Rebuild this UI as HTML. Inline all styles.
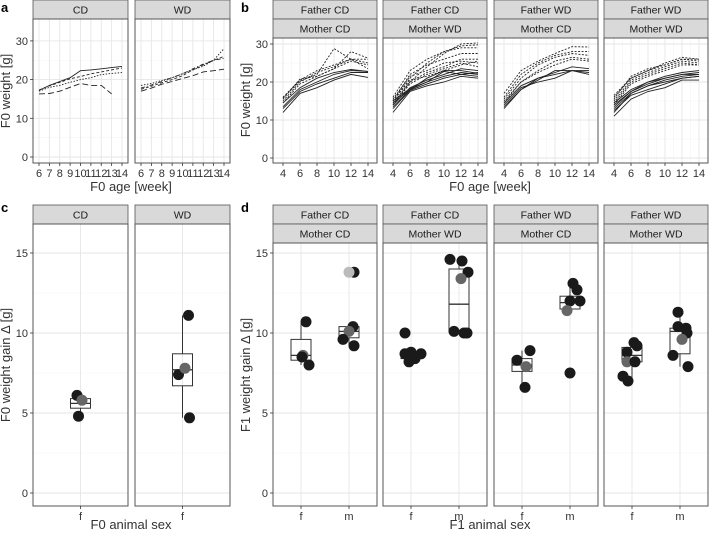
<!DOCTYPE html>
<html><head><meta charset="utf-8"><style>
html,body{margin:0;padding:0;background:#fff;}
svg{display:block;font-family:"Liberation Sans",Arial,sans-serif;}
</style></head><body>
<svg id="fig" width="709" height="533" viewBox="0 0 709 533" xmlns="http://www.w3.org/2000/svg"></svg>
<script>
// ---------- DATA ----------
const weeksA = [6,7,8,9,10,11,12,13,14];
const aCD_solid = [17.2,18.5,19.5,20.5,22.3,22.5,22.8,23.1,23.4];
const aCD_long = [16.3,16.4,17,18,19,18.5,18.5,16.3,null];
const aCD_dot = [17,18,18.5,19.3,20,20.5,21.3,21.6,21.8];
const aCD_dash = [17.3,18.4,19.3,20.2,20.8,21.5,22,22.5,23];
const aWD_dot = [18.5,19,19.8,20.5,21.5,22.5,23.5,25,28];
const aWD_dashdot = [17.8,18.6,19.5,20.5,21.5,22.8,24,25,25.5];
const aWD_long = [17,17.8,18.8,19.5,20.3,21,22,22.3,22.7];
const aWD_dash = [17.5,18.3,19.2,20,21,22.5,23.8,25,26];

const weeksB = [4,6,8,10,12,14];
const b1Solid = [[12,17,18.5,20.5,22,21.2],[13,17.5,19.5,21,22.5,22.5],[13.5,18,20,22,23,22.8],[14.5,18.5,21,22.5,23.3,22.8]];
const b1Dot = [[15.8,20.3,22,28.8,26,25],[15.5,20.8,21.5,23.5,28,26.3],[15,20,22.5,24,26,26],[14.5,19.5,21.5,23.5,25.5,24.5],[16,20.5,23,24.5,26,23.5]];
const b2Solid = [[12,17.5,19,20,21.5,21],[13,17.8,19.5,21,22,21.5],[13.5,18,20,21.5,22.5,22],[14,18.5,20.5,22,23.5,23],[14.5,18,21,23,23,22.3],[15,18.3,20,22.8,22,22.5]];
const b2Dot = [[14,20,24,27.5,30,30.3],[15,21,25,28,29.5,29.8],[16,23,26,28,29,29],[15,22,24.5,26,27.5,27.5],[14.5,20,22.5,24,26,26],[15.5,21.5,23,25,25.5,25],[14,19.5,22,23.5,25,24],[15,20.5,21.5,23,24.5,25.5]];
const b3Solid = [[13.5,18,21,22,23,22],[14,18.5,20,21,23,22.5],[14.5,19,21,22.5,24,23.5],[13,18,20.5,23,23,23]];
const b3Dot = [[17,23,25.5,27.5,29.3,29.2],[16,22,25,27,28,28],[15.5,21,24.5,26.5,27.5,27],[15,20,23,25.5,26.5,26],[14.5,20,22.5,24.5,26,25.5]];
const b4Solid = [[11,15.5,17.5,18.5,20.5,20.5],[12.5,16.5,18,19.5,21,21.5],[13,17,19,20.5,21.5,22],[13.5,17.5,19.5,21,22,22.5],[14,17.5,20,21.5,22.5,23],[14.5,18,20,21,22,22],[12,17,19,20,21,21.5]];
const b4Dot = [[16,21,23,25,26.5,26],[15.5,21.5,23.5,24.5,26,26],[15,20.5,22.5,24,25.5,25],[14.5,20,22,23.5,25,24.5],[16.5,21,23,24.5,26,25.5],[14,19.5,21.5,23,24.5,24.5]];

const cCD_vals = [6.1,5.8,4.8]; const cCD_jit = [-0.07,0.03,-0.04]; const cCD_grey=[0,1,0];
const cCD_box = [4.8,5.3,5.6,5.9,6.1];
const cWD_vals = [11.1,7.4,7.8,4.7]; const cWD_jit = [0.12,-0.08,0.05,0.14]; const cWD_grey=[0,0,1,0];
const cWD_box = [4.7,6.7,7.7,8.7,11.1];

const d1f_vals=[10.7,8.6,8.0,8.5]; const d1f_jit=[0.1,0.04,0.16,0.02]; const d1f_grey=[0,1,0,0]; const d1f_box=[8.0,8.3,8.6,9.6,10.6];
const d1m_vals=[13.8,10.4,10.1,9.6,9.2,13.8]; const d1m_jit=[0.1,0.08,0,-0.12,0.1,0.0]; const d1m_grey=[0,0,1,0,0,2]; const d1m_box=[9.2,9.7,10.1,10.4,10.4];
const d2f_vals=[10.0,8.7,8.8,8.7,8.2,8.4]; const d2f_jit=[-0.12,-0.12,0,0.2,-0.04,0.08]; const d2f_grey=[0,0,0,0,0,0]; const d2f_box=[8.2,8.4,8.5,8.7,8.8];
const d2m_vals=[14.6,14.5,13.8,13.4,10.1,10.0,10.0]; const d2m_jit=[-0.18,0.06,0.18,0.04,-0.1,0.1,0.16]; const d2m_grey=[0,0,0,1,0,0,0]; const d2m_box=[10.0,10.1,11.8,14.0,14.5];
const d3f_vals=[8.9,8.3,7.9,6.6]; const d3f_jit=[0.16,-0.1,0.08,0.06]; const d3f_grey=[0,0,1,0]; const d3f_box=[6.6,7.6,8.0,8.4,8.9];
const d3m_vals=[13.1,12.7,12.0,12.0,11.4,7.5]; const d3m_jit=[0.06,0.14,0,0.2,-0.06,0]; const d3m_grey=[0,0,0,0,1,0]; const d3m_box=[11.4,11.5,11.9,12.3,13.1];
const d4f_vals=[9.4,9.2,8.8,8.2,8.2,7.3,7.0]; const d4f_jit=[0.04,0.1,-0.1,-0.1,0.06,-0.18,-0.08]; const d4f_grey=[0,0,0,1,0,0,0]; const d4f_box=[7.0,8.2,8.6,9.1,9.4];
const d4m_vals=[11.3,10.4,10.3,10.0,9.6,8.6,7.9]; const d4m_jit=[-0.04,-0.04,0.12,0.14,0.04,-0.14,0.16]; const d4m_grey=[0,0,0,0,1,0,0]; const d4m_box=[7.9,8.7,10.1,10.3,11.3];

// ---------- DRAWING ----------
const NS="http://www.w3.org/2000/svg";
const svg=document.getElementById('fig');
function mk(tag,attrs,parent){const e=document.createElementNS(NS,tag);for(const k in attrs)e.setAttribute(k,attrs[k]);(parent||svg).appendChild(e);return e;}
function txt(s,x,y,size,anchor,parent,extra){const t=mk('text',Object.assign({x:x,y:y,'font-size':size,'text-anchor':anchor||'middle',fill:'#333'},extra||{}),parent);t.textContent=s;return t;}

function panel(x0,x1,y0,y1,strips,name){
  const g=mk('g',{});
  
  
  strips.forEach((s,i)=>{
    const sy=y0-19*(strips.length-i);
    const r=mk('rect',{x:x0,y:sy,width:x1-x0,height:19,fill:'#d9d9d9',stroke:'#555','stroke-width':0.8},g);
    
    
    const t=txt(s,(x0+x1)/2,sy+13.5,10.5,'middle',g,{fill:'#1a1a1a'});
    
    
  });
  return g;
}
function grid(g,x0,x1,y0,y1,ys,ysMinor,xs,xsMinor){
  ysMinor.forEach(y=>mk('line',{x1:x0,x2:x1,y1:y,y2:y,stroke:'#f4f4f4','stroke-width':0.6},g));
  xsMinor.forEach(x=>mk('line',{x1:x,x2:x,y1:y0,y2:y1,stroke:'#f4f4f4','stroke-width':0.6},g));
  ys.forEach(y=>mk('line',{x1:x0,x2:x1,y1:y,y2:y,stroke:'#e6e6e6','stroke-width':0.9},g));
  xs.forEach(x=>mk('line',{x1:x,x2:x,y1:y0,y2:y1,stroke:'#e6e6e6','stroke-width':0.9},g));
}
function border(g,x0,x1,y0,y1){mk('rect',{x:x0,y:y0,width:x1-x0,height:y1-y0,fill:'none',stroke:'#555','stroke-width':1},g);}
function line(g,xs,vals,xf,yf,dash,name){
  let d='';let pen=false;
  vals.forEach((v,i)=>{if(v==null){pen=false;return;}d+=(pen?'L':'M')+xf(xs[i]).toFixed(1)+','+yf(v).toFixed(1);pen=true;});
  const p=mk('path',{d:d,fill:'none',stroke:'#222','stroke-width':0.9,'stroke-dasharray':dash},g);
  
  
}
function xTicks(g,vals,xf,y,labels,size){vals.forEach((v,i)=>{mk('line',{x1:xf(v),x2:xf(v),y1:y,y2:y+3,stroke:'#333','stroke-width':0.8},g);const t=txt(labels[i],xf(v),y+14,size,'middle',g);});}
function yTicks(g,vals,yf,x){vals.forEach(v=>{mk('line',{x1:x-3,x2:x,y1:yf(v),y2:yf(v),stroke:'#333','stroke-width':0.8},g);const t=txt(String(v),x-5,yf(v)+4,11,'end',g);});}
function title(s,x,y,rot,name){const t=txt(s,x,y,13,'middle',svg,rot?{transform:'rotate(-90 '+x+' '+y+')'}:{});}
function letter(s,x,y){const t=txt(s,x,y,13,'start',svg,{'font-weight':'bold',fill:'#000'});}

const DASH={solid:'none',dot:'1.5,1.5',dash:'3,2',long:'6,3',dashdot:'4,2,1,2'};

// ----- Panel a -----
const ayf=v=>157-v*3.87;
const aPanels=[[33,128,'CD',[[aCD_solid,'solid'],[aCD_long,'long'],[aCD_dot,'dot'],[aCD_dash,'dash']]],[135,230,'WD',[[aWD_dot,'dot'],[aWD_dashdot,'dashdot'],[aWD_long,'long'],[aWD_dash,'dash']]]];
aPanels.forEach((p,pi)=>{
  const [x0,x1,lab,series]=p;const y0=19,y1=163;
  const xf=w=>x0+6+(w-6)*(83/8);
  const g=panel(x0,x1,y0,y1,[lab],'panel-a-'+lab.toLowerCase());
  grid(g,x0,x1,y0,y1,[0,10,20,30].map(ayf),[5,15,25].map(ayf),weeksA.map(xf),[]);
  series.forEach(s=>line(g,weeksA,s[0],xf,ayf,DASH[s[1]],'weight-line'));
  border(g,x0,x1,y0,y1);
  xTicks(g,weeksA,xf,y1,weeksA.map(String),11);
  if(pi===0)yTicks(g,[0,10,20,30],ayf,x0);
});
title('F0 age [week]',131,191,false,'x-axis-title-a');
title('F0 weight [g]',10,91,true,'y-axis-title-a');
letter('a',1,12);

// ----- Panel b -----
const byf=v=>158-v*3.8;
const bStrips=[['Father CD','Mother CD'],['Father CD','Mother WD'],['Father WD','Mother CD'],['Father WD','Mother WD']];
const bSeries=[[b1Solid,b1Dot],[b2Solid,b2Dot],[b3Solid,b3Dot],[b4Solid,b4Dot]];
const bX=[273,383,494,604];
bX.forEach((x0,pi)=>{
  const x1=x0+104;const y0=38,y1=163;
  const xf=w=>x0+10+(w-4)*8.5;
  const g=panel(x0,x1,y0,y1,bStrips[pi],'panel-b-'+(pi+1));
  grid(g,x0,x1,y0,y1,[0,10,20,30].map(byf),[5,15,25].map(byf),weeksB.map(xf),[5,7,9,11,13].map(xf));
  bSeries[pi][1].forEach(s=>line(g,weeksB,s,xf,byf,'2,1.5','mother-line-dotted'));
  bSeries[pi][0].forEach(s=>line(g,weeksB,s,xf,byf,'none','father-line-solid'));
  border(g,x0,x1,y0,y1);
  xTicks(g,weeksB,xf,y1,weeksB.map(String),11);
  if(pi===0)yTicks(g,[0,10,20,30],byf,x0);
});
title('F0 age [week]',490,191,false,'x-axis-title-b');
title('F0 weight [g]',250,100,true,'y-axis-title-b');
letter('b',241,12);

// ----- box/point helpers -----
const gyf=v=>493-v*16;
function boxGroup(g,cx,box,vals,jit,grey,name){
  const bw=10;
  const bg=mk('g',{},g);
  
  
  mk('line',{x1:cx,x2:cx,y1:gyf(box[0]),y2:gyf(box[1]),stroke:'#333','stroke-width':1},bg);
  mk('line',{x1:cx,x2:cx,y1:gyf(box[3]),y2:gyf(box[4]),stroke:'#333','stroke-width':1},bg);
  mk('rect',{x:cx-bw,y:gyf(box[3]),width:bw*2,height:gyf(box[1])-gyf(box[3]),fill:'none',stroke:'#333','stroke-width':1},bg);
  mk('line',{x1:cx-bw,x2:cx+bw,y1:gyf(box[2]),y2:gyf(box[2]),stroke:'#333','stroke-width':1.3},bg);
  vals.forEach((v,i)=>{
    const c=mk('circle',{cx:cx+jit[i]*50,cy:gyf(v),r:5.5,fill:grey[i]===1?'#666':(grey[i]===2?'#bbb':'#1a1a1a')},bg);
    
    
  });
}

// ----- Panel c -----
const cPanels=[[33,'CD',cCD_box,cCD_vals,cCD_jit,cCD_grey],[135,'WD',cWD_box,cWD_vals,cWD_jit,cWD_grey]];
cPanels.forEach((p,pi)=>{
  const [x0,lab,box,vals,jit,grey]=p;const x1=x0+95;const y0=224,y1=506;
  const cx=x0+47.5;
  const g=panel(x0,x1,y0,y1,[lab],'panel-c-'+lab.toLowerCase());
  grid(g,x0,x1,y0,y1,[0,5,10,15].map(gyf),[2.5,7.5,12.5].map(gyf),[cx],[]);
  boxGroup(g,cx,box,vals,jit,grey,'boxplot-f');
  border(g,x0,x1,y0,y1);
  xTicks(g,[0],()=>cx,y1,['f'],11);
  if(pi===0)yTicks(g,[0,5,10,15],gyf,x0);
});
title('F0 animal sex',131,529,false,'x-axis-title-c');
title('F0 weight gain Δ [g]',10,365,true,'y-axis-title-c');
letter('c',1,212);

// ----- Panel d -----
const dData=[[d1f_box,d1f_vals,d1f_jit,d1f_grey,d1m_box,d1m_vals,d1m_jit,d1m_grey],
 [d2f_box,d2f_vals,d2f_jit,d2f_grey,d2m_box,d2m_vals,d2m_jit,d2m_grey],
 [d3f_box,d3f_vals,d3f_jit,d3f_grey,d3m_box,d3m_vals,d3m_jit,d3m_grey],
 [d4f_box,d4f_vals,d4f_jit,d4f_grey,d4m_box,d4m_vals,d4m_jit,d4m_grey]];
bX.forEach((x0,pi)=>{
  const x1=x0+104;const y0=243,y1=506;
  const fx=x0+28,mx=x0+76;
  const g=panel(x0,x1,y0,y1,bStrips[pi],'panel-d-'+(pi+1));
  grid(g,x0,x1,y0,y1,[0,5,10,15].map(gyf),[2.5,7.5,12.5].map(gyf),[fx,mx],[]);
  const D=dData[pi];
  boxGroup(g,fx,D[0],D[1],D[2],D[3],'boxplot-f');
  boxGroup(g,mx,D[4],D[5],D[6],D[7],'boxplot-m');
  border(g,x0,x1,y0,y1);
  xTicks(g,[0,1],v=>v?mx:fx,y1,['f','m'],11);
  if(pi===0)yTicks(g,[0,5,10,15],gyf,x0);
});
title('F1 animal sex',490,529,false,'x-axis-title-d');
title('F1 weight gain Δ [g]',250,375,true,'y-axis-title-d');
letter('d',241,212);
</script>
</body></html>
